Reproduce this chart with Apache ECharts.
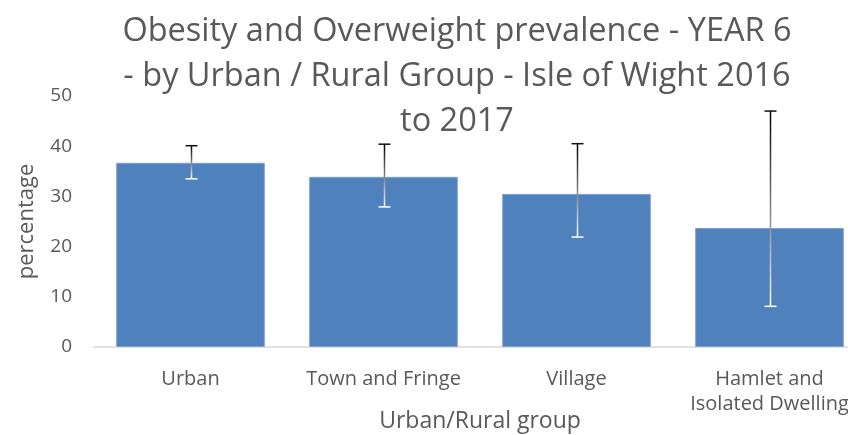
<!DOCTYPE html>
<html><head><meta charset="utf-8">
<script src="https://cdn.jsdelivr.net/npm/echarts@6/dist/echarts.min.js"></script>
<style>html,body{margin:0;padding:0;background:#fff;}#c{width:848px;height:435px;}</style>
</head><body><div id="c"></div>
<script>
var categories = ['Urban', 'Town and Fringe', 'Village', 'Hamlet and\nIsolated Dwelling'];
var values = [36.7, 33.9, 30.5, 23.7];
var errLow = [33.5, 27.9, 21.9, 8.1];
var errHigh = [40.1, 40.4, 40.5, 47.0];
var yTicks = [0, 10, 20, 30, 40, 50];
var titleText = 'Obesity and Overweight prevalence - YEAR 6\n- by Urban / Rural Group - Isle of Wight 2016\nto 2017';

var FONT = 'Open Sans';
var chart = echarts.init(document.getElementById('c'), null, {renderer: 'canvas'});
var errData = categories.map(function (c, i) { return [i, errLow[i], errHigh[i]]; });
chart.setOption({
  animation: false,
  title: {
    text: titleText, left: 452, top: 4, textAlign: 'center',
    textStyle: {fontFamily: FONT, fontSize: 32.5, fontWeight: 'normal', color: '#595959', lineHeight: 45}
  },
  grid: {left: 94, right: -18, top: 96, bottom: 88, containLabel: false, outerBoundsMode: 'none'},
  xAxis: {
    type: 'category', data: categories,
    name: 'Urban/Rural group', nameLocation: 'middle', nameGap: 63, nameMoveOverlap: false,
    nameTextStyle: {fontFamily: FONT, fontSize: 23, color: '#595959'},
    axisLine: {lineStyle: {color: '#d9d9d9', width: 1.5}},
    axisTick: {show: false},
    axisLabel: {fontFamily: FONT, fontSize: 20, color: '#595959', margin: 20, lineHeight: 25, interval: 0}
  },
  yAxis: {
    type: 'value', min: 0, max: 50, interval: 10,
    name: 'percentage', nameLocation: 'middle', nameGap: 56, nameRotate: 90, nameMoveOverlap: false,
    nameTextStyle: {fontFamily: FONT, fontSize: 22, color: '#595959'},
    axisLine: {show: false}, axisTick: {show: false}, splitLine: {show: false},
    axisLabel: {fontFamily: FONT, fontSize: 19, color: '#595959', margin: 22,
      formatter: function (v) { return yTicks.indexOf(v) >= 0 ? String(v) : ''; }}
  },
  series: [{
    type: 'bar', data: values, barCategoryGap: '23%',
    itemStyle: {color: '#4f81bd', borderColor: '#7ea0cf', borderWidth: 1}
  }, {
    type: 'custom', data: errData, z: 10,
    renderItem: function (params, api) {
      var x = api.value(0);
      var top = api.coord([x, api.value(2)]);
      var bot = api.coord([x, api.value(1)]);
      var cx = Math.round(top[0]) + 0.5;
      var hw = 6;
      var grad = new echarts.graphic.LinearGradient(0, top[1], 0, bot[1], [
        {offset: 0, color: '#000000'}, {offset: 1, color: '#ffffff'}], true);
      return {
        type: 'group', children: [
          {type: 'line', shape: {x1: cx, y1: top[1], x2: cx, y2: bot[1]}, style: {stroke: grad, lineWidth: 1.5}},
          {type: 'line', shape: {x1: cx - hw, y1: top[1], x2: cx + hw, y2: top[1]}, style: {stroke: '#111', lineWidth: 1.5}},
          {type: 'line', shape: {x1: cx - hw, y1: bot[1], x2: cx + hw, y2: bot[1]}, style: {stroke: '#ffffff', lineWidth: 1.5}}
        ]
      };
    }
  }]
});
</script></body></html>
